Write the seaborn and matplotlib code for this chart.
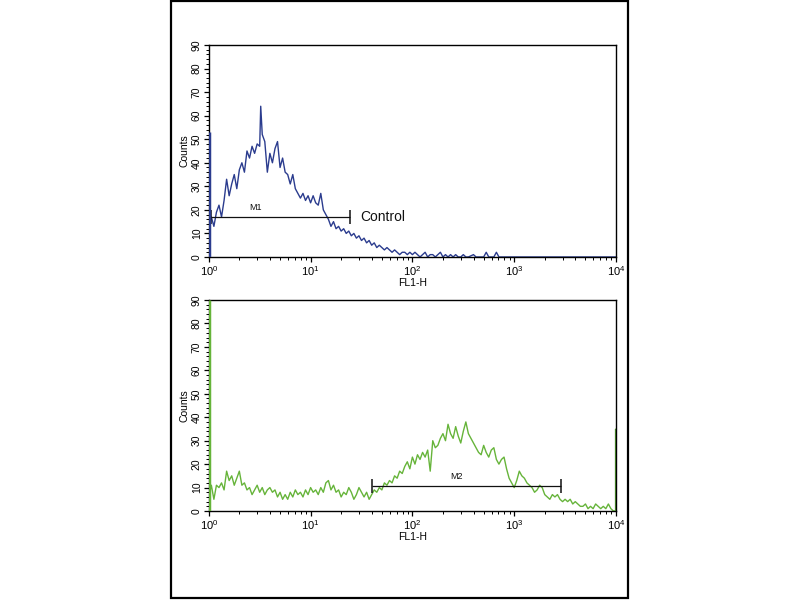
import matplotlib
matplotlib.use("Agg")
import matplotlib.pyplot as plt
from matplotlib.patches import Rectangle
from matplotlib.ticker import LogLocator, MultipleLocator
import numpy as np
import pandas as pd
import seaborn as sns

# FL1-H position in decades (log10) and counts
CONTROL_LOG = [0.0, 0.0, 0.01, 0.025, 0.05, 0.075, 0.1, 0.125, 0.15, 0.175, 0.2, 0.225, 0.25, 0.275,
               0.3, 0.325, 0.35, 0.375, 0.4, 0.425, 0.45, 0.475, 0.5, 0.51, 0.525, 0.55, 0.575, 0.6,
               0.625, 0.65, 0.675, 0.7, 0.725, 0.75, 0.775, 0.8, 0.825, 0.85, 0.875, 0.9, 0.925, 0.95,
               0.975, 1.0, 1.025, 1.05, 1.075, 1.1, 1.125, 1.15, 1.175, 1.2, 1.225, 1.25, 1.275, 1.3,
               1.325, 1.35, 1.375, 1.4, 1.425, 1.45, 1.475, 1.5, 1.525, 1.55, 1.575, 1.6, 1.625, 1.65,
               1.675, 1.7, 1.725, 1.75, 1.775, 1.8, 1.825, 1.85, 1.875, 1.9, 1.925, 1.95, 1.975, 2.0,
               2.025, 2.05, 2.075, 2.1, 2.125, 2.15, 2.175, 2.2, 2.225, 2.25, 2.275, 2.3, 2.325, 2.35,
               2.375, 2.4, 2.425, 2.45, 2.475, 2.5, 2.525, 2.55, 2.6, 2.625, 2.7, 2.725, 2.75, 2.8,
               2.825, 2.85, 3.0, 3.5, 4.0]
CONTROL_COUNTS = [0, 53, 15, 17, 13, 19, 22, 17, 24, 33, 26, 31, 35, 29,
                  37, 40, 36, 45, 42, 47, 44, 48, 47, 64, 52, 49, 36, 44,
                  40, 46, 49, 38, 42, 36, 35, 31, 35, 29, 27, 25, 27, 24,
                  26, 23, 26, 23, 22, 27, 20, 18, 16, 13, 15, 12, 13, 11,
                  12, 10, 11, 9, 10, 8, 9, 7, 8, 6, 7, 5, 6, 4,
                  5, 4, 3, 4, 3, 2, 3, 2, 1, 2, 2, 1, 2, 1,
                  2, 1, 0, 1, 2, 0, 1, 1, 0, 1, 2, 0, 1, 0,
                  1, 0, 1, 0, 0, 1, 0, 0, 1, 0, 0, 2, 0, 0,
                  2, 0, 0, 0, 0]

SAMPLE_LOG = [0.0, 0.0, 0.01, 0.025, 0.05, 0.075, 0.1, 0.125, 0.15, 0.175, 0.2, 0.225, 0.25, 0.275,
              0.3, 0.325, 0.35, 0.375, 0.4, 0.425, 0.45, 0.475, 0.5, 0.525, 0.55, 0.575, 0.6, 0.625,
              0.65, 0.675, 0.7, 0.725, 0.75, 0.775, 0.8, 0.825, 0.85, 0.875, 0.9, 0.925, 0.95, 0.975,
              1.0, 1.025, 1.05, 1.075, 1.1, 1.125, 1.15, 1.175, 1.2, 1.225, 1.25, 1.275, 1.3, 1.325,
              1.35, 1.375, 1.4, 1.425, 1.45, 1.475, 1.5, 1.525, 1.55, 1.575, 1.6, 1.625, 1.65, 1.675,
              1.7, 1.725, 1.75, 1.775, 1.8, 1.825, 1.85, 1.875, 1.9, 1.925, 1.95, 1.975, 2.0, 2.025,
              2.05, 2.075, 2.1, 2.125, 2.15, 2.175, 2.2, 2.225, 2.25, 2.275, 2.3, 2.325, 2.35, 2.375,
              2.4, 2.425, 2.45, 2.475, 2.5, 2.525, 2.55, 2.575, 2.6, 2.625, 2.65, 2.675, 2.7, 2.725,
              2.75, 2.775, 2.8, 2.825, 2.85, 2.875, 2.9, 2.925, 2.95, 2.975, 3.0, 3.025, 3.05, 3.075,
              3.1, 3.125, 3.15, 3.175, 3.2, 3.225, 3.25, 3.275, 3.3, 3.325, 3.35, 3.375, 3.4, 3.425,
              3.45, 3.475, 3.5, 3.525, 3.55, 3.575, 3.6, 3.625, 3.65, 3.675, 3.7, 3.725, 3.75, 3.775,
              3.8, 3.825, 3.85, 3.875, 3.9, 3.925, 3.95, 3.975, 3.999, 3.999]
SAMPLE_COUNTS = [0, 90, 8, 11, 5, 11, 10, 12, 9, 17, 13, 15, 11, 14,
                 17, 11, 12, 9, 10, 7, 9, 11, 8, 10, 7, 9, 10, 8,
                 9, 6, 8, 5, 7, 5, 8, 6, 9, 7, 8, 6, 9, 7,
                 10, 8, 9, 7, 10, 8, 12, 13, 9, 11, 8, 9, 6, 8,
                 7, 10, 8, 5, 7, 10, 8, 6, 8, 5, 7, 9, 8, 10,
                 9, 12, 11, 13, 12, 15, 14, 17, 16, 19, 21, 18, 23, 20,
                 24, 22, 25, 23, 26, 17, 30, 27, 28, 31, 33, 30, 37, 33,
                 31, 36, 32, 29, 34, 38, 33, 31, 29, 27, 25, 24, 28, 25,
                 23, 26, 27, 22, 20, 22, 23, 18, 14, 12, 10, 13, 17, 15,
                 14, 12, 11, 10, 8, 9, 11, 10, 7, 6, 5, 7, 6, 7,
                 5, 4, 5, 4, 5, 3, 4, 3, 2, 2, 3, 1, 2, 1,
                 3, 2, 1, 2, 1, 3, 1, 0, 0, 35]

# marker gates: (start, end, height)
M1_GATE = (1.05, 24.3, 17)
M2_GATE = (40, 2850, 10.7)

BLUE = "#2b3c8e"
GREEN = "#66b43a"

sns.set_style("ticks")
plt.rcParams["font.family"] = ["Liberation Sans", "DejaVu Sans"]
plt.rcParams["mathtext.fontset"] = "custom"
plt.rcParams["mathtext.rm"] = "Liberation Sans"
plt.rcParams["text.color"] = "black"
plt.rcParams["axes.labelcolor"] = "black"
plt.rcParams["xtick.color"] = "black"
plt.rcParams["ytick.color"] = "black"


def style_axis(ax):
    ax.set_xscale("log")
    ax.set_xlim(1, 1e4)
    ax.set_ylim(0, 90)
    ax.xaxis.set_major_locator(LogLocator(base=10, numticks=10))
    ax.xaxis.set_minor_locator(LogLocator(base=10, subs=np.arange(2, 10), numticks=10))
    ax.yaxis.set_major_locator(MultipleLocator(10))
    ax.yaxis.set_minor_locator(MultipleLocator(2))
    ax.tick_params(which="major", direction="out", length=3.5, width=0.9, labelsize=8, pad=1.5,
                   color="black", labelcolor="black")
    ax.tick_params(which="minor", direction="out", length=2, width=0.7, color="black")
    ax.tick_params(axis="y", labelsize=7.5, labelrotation=90)
    for lab in ax.get_yticklabels():
        lab.set_verticalalignment("center")
    for sp in ax.spines.values():
        sp.set_visible(True)
        sp.set_linewidth(1.0)
        sp.set_color("black")
    ax.set_xlabel("FL1-H", fontsize=7.5, labelpad=0, color="black")
    ax.set_ylabel("Counts", fontsize=7.5, labelpad=2, color="black")


def gate(ax, lo, hi, y, name, name_x):
    ax.hlines(y, lo, hi, color="#111111", lw=0.9)
    ax.vlines([lo, hi], y - 3, y + 3, color="#111111", lw=1.1)
    ax.text(name_x, y + 4, name, fontsize=6.5, ha="center", va="center", color="#111111")


fig = plt.figure(figsize=(8, 6), dpi=100)
ax_top = fig.add_axes([0.261, 0.5717, 0.509, 0.3533])
ax_bot = fig.add_axes([0.261, 0.1483, 0.509, 0.3517])

top_df = pd.DataFrame({"fl1": np.power(10.0, CONTROL_LOG), "counts": CONTROL_COUNTS})
bot_df = pd.DataFrame({"fl1": np.power(10.0, SAMPLE_LOG), "counts": SAMPLE_COUNTS})

sns.lineplot(data=top_df, x="fl1", y="counts", ax=ax_top, color=BLUE, lw=1.0,
             estimator=None, sort=False)
sns.lineplot(data=bot_df, x="fl1", y="counts", ax=ax_bot, color=GREEN, lw=1.0,
             estimator=None, sort=False)
# the first channel piles up on the axis edge
ax_top.vlines(1.0, 0, CONTROL_COUNTS[1], color=BLUE, lw=2.5, zorder=3)
ax_bot.vlines(1.0, 0, SAMPLE_COUNTS[1], color=GREEN, lw=2.5, zorder=3)
ax_bot.vlines(9980, 0, SAMPLE_COUNTS[-1], color="#3f7a25", lw=1.6, zorder=3)

style_axis(ax_top)
style_axis(ax_bot)

gate(ax_top, M1_GATE[0], M1_GATE[1], M1_GATE[2], "M1", 2.85)
gate(ax_bot, M2_GATE[0], M2_GATE[1], M2_GATE[2], "M2", 270)
ax_top.text(31, M1_GATE[2], "Control", fontsize=10, ha="left", va="center", color="#111111")

fig.add_artist(Rectangle((0.214, 0.003), 0.571, 0.995, transform=fig.transFigure,
                         fill=False, edgecolor="black", lw=1.6))

fig.savefig("out.png", dpi=100)
